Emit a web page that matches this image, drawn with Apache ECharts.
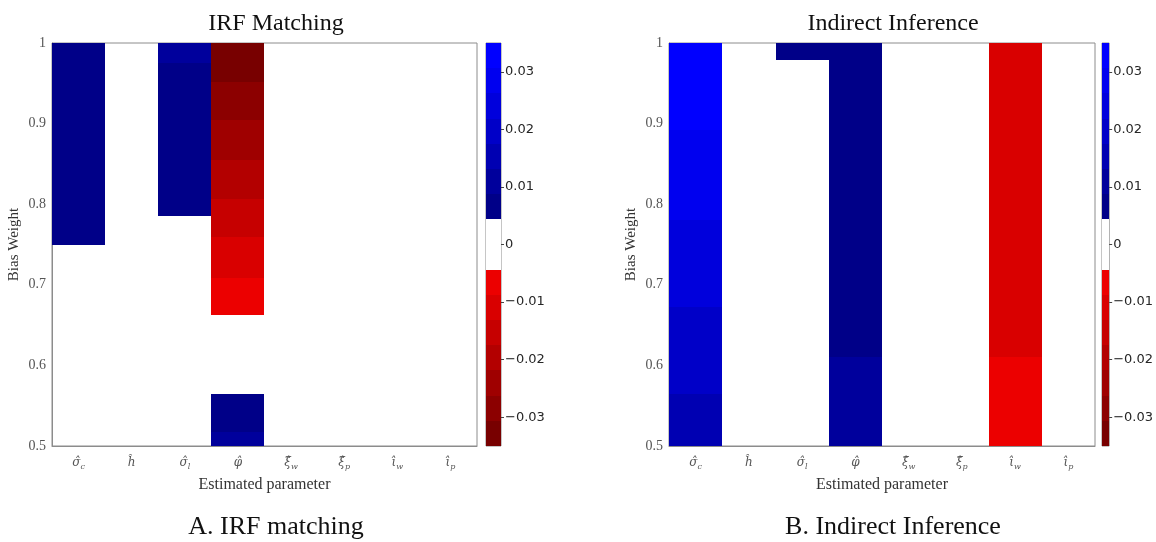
<!DOCTYPE html>
<html>
<head>
<meta charset="utf-8">
<script src="https://cdn.jsdelivr.net/npm/echarts@6/dist/echarts.min.js"></script>
<style>
  html, body { margin: 0; padding: 0; background: #fff; }
  #main { width: 1156px; height: 542px; }
</style>
</head>
<body>
<div id="main"></div>
<script>
// estimated parameters (symbol + subscript)
var paramSymbols = ['σ\u0302', 'h\u0302', 'σ\u0302', 'φ\u0302', 'ξ\u0302', 'ξ\u0302', 'ι\u0302', 'ι\u0302'];
var paramSubs = ['c', '', 'l', '', 'w', 'p', 'w', 'p'];

// bias blocks: [parameter index, bias weight from, bias weight to, bias]
var irfBlocks = [
  [0, 0.750, 1.000, 0.0068],
  [2, 0.785, 0.975, 0.0070],
  [2, 0.975, 1.000, 0.0105],
  [3, 0.952, 1.000, -0.0330],
  [3, 0.904, 0.952, -0.0288],
  [3, 0.855, 0.904, -0.0243],
  [3, 0.807, 0.855, -0.0199],
  [3, 0.759, 0.807, -0.0155],
  [3, 0.709, 0.759, -0.0110],
  [3, 0.662, 0.709, -0.0068],
  [3, 0.517, 0.565, 0.0072],
  [3, 0.500, 0.517, 0.0100]
];

var iiBlocks = [
  [0, 0.892, 1.000, 0.0330],
  [0, 0.780, 0.892, 0.0285],
  [0, 0.673, 0.780, 0.0243],
  [0, 0.564, 0.673, 0.0200],
  [0, 0.500, 0.564, 0.0157],
  [2, 0.979, 1.000, 0.0065],
  [3, 0.611, 1.000, 0.0070],
  [3, 0.500, 0.611, 0.0108],
  [6, 0.611, 1.000, -0.0112],
  [6, 0.500, 0.611, -0.0068]
];

// colour scale: 16 equal levels between -0.035 and 0.035
var levelMin = -0.035, levelMax = 0.035;
var levelColors = [
  '#780000', '#8c0000', '#9f0000', '#b30000', '#c60000', '#d90000', '#ec0000',
  '#ffffff', '#ffffff',
  '#000088', '#00009c', '#0000b2', '#0000c8', '#0000dc', '#0000ef', '#0000ff'
];
var colorbarTicks = [-0.03, -0.02, -0.01, 0, 0.01, 0.02, 0.03];

var step = (levelMax - levelMin) / levelColors.length;
var pieces = [];
var colorbarData = [];
levelColors.forEach(function (c, i) {
  var lo = levelMin + i * step, hi = lo + step;
  pieces.push({ gte: lo, lt: hi, color: c });
  colorbarData.push([0, lo, hi, lo + step / 2]);
});

var categories = paramSymbols.map(function (s, i) { return String(i); });

function renderBlock(params, api) {
  var x = api.value(0);
  var p0 = api.coord([x, api.value(1)]);
  var p1 = api.coord([x, api.value(2)]);
  var w = api.size([1, 0])[0];
  var yTop = Math.round(p1[1]), yBot = Math.round(p0[1]);
  return {
    type: 'rect',
    shape: { x: Math.round(p0[0] - w / 2), y: yTop, width: Math.round(w), height: yBot - yTop },
    style: { fill: api.visual('color') }
  };
}

var serif = 'Liberation Serif';
var axisGray = '#8c8c8c';

function mainX(gridIndex) {
  return {
    type: 'category', gridIndex: gridIndex, data: categories,
    name: 'Estimated parameter', nameLocation: 'middle', nameGap: 31,
    nameTextStyle: { fontFamily: serif, fontSize: 16, color: '#333' },
    axisLine: { lineStyle: { color: axisGray } },
    axisTick: { show: false },
    axisLabel: {
      margin: 9, interval: 0,
      formatter: function (v) {
        var i = +v;
        return '{m|' + paramSymbols[i] + '}' + (paramSubs[i] ? '{s|' + paramSubs[i] + '}' : '');
      },
      rich: {
        m: { fontFamily: 'DejaVu Serif', fontStyle: 'italic', fontSize: 12, color: '#555', lineHeight: 16 },
        s: { fontFamily: 'DejaVu Serif', fontStyle: 'italic', fontSize: 8, color: '#555', verticalAlign: 'bottom', padding: [6, 0, 0, 0] }
      }
    }
  };
}

function mainY(gridIndex) {
  return {
    type: 'value', gridIndex: gridIndex, min: 0.5, max: 1, interval: 0.1,
    name: 'Bias Weight', nameLocation: 'middle', nameGap: 30,
    nameTextStyle: { fontFamily: serif, fontSize: 15, color: '#333' },
    axisLine: { show: true, lineStyle: { color: axisGray } },
    axisTick: { show: false },
    splitLine: { show: false },
    axisLabel: { fontFamily: serif, fontSize: 14, color: '#555', margin: 6 }
  };
}

function barX(gridIndex) {
  return { type: 'category', gridIndex: gridIndex, data: ['0'], show: false };
}

function barY(gridIndex) {
  return {
    type: 'value', gridIndex: gridIndex, min: levelMin, max: levelMax, position: 'right',
    axisLine: { show: false },
    splitLine: { show: false },
    axisTick: { show: true, customValues: colorbarTicks, length: 3, inside: false, lineStyle: { color: '#444' } },
    axisLabel: {
      customValues: colorbarTicks, margin: 4,
      fontFamily: 'DejaVu Sans', fontSize: 13, color: '#262626',
      formatter: function (v) { return v === 0 ? '0' : v.toFixed(2).replace('-', '\u2212'); }
    }
  };
}

var chart = echarts.init(document.getElementById('main'));
chart.setOption({
  backgroundColor: '#fff',
  animation: false,
  grid: [
    { left: 52, top: 43, width: 425, height: 403, show: true, borderColor: axisGray, borderWidth: 1 },
    { left: 486, top: 43, width: 15, height: 403, show: true, borderColor: axisGray, borderWidth: 1 },
    { left: 669, top: 43, width: 426, height: 403, show: true, borderColor: axisGray, borderWidth: 1 },
    { left: 1102, top: 43, width: 16, height: 403, show: true, borderColor: axisGray, borderWidth: 1 }
  ],
  xAxis: [mainX(0), barX(1), mainX(2), barX(3)],
  yAxis: [mainY(0), barY(1), mainY(2), barY(3)],
  visualMap: {
    type: 'piecewise', show: false, dimension: 3,
    seriesIndex: [0, 1, 2, 3], pieces: pieces
  },
  series: [
    { type: 'custom', xAxisIndex: 0, yAxisIndex: 0, renderItem: renderBlock, encode: { x: 0, y: [1, 2] }, data: irfBlocks },
    { type: 'custom', xAxisIndex: 1, yAxisIndex: 1, renderItem: renderBlock, encode: { x: 0, y: [1, 2] }, data: colorbarData },
    { type: 'custom', xAxisIndex: 2, yAxisIndex: 2, renderItem: renderBlock, encode: { x: 0, y: [1, 2] }, data: iiBlocks },
    { type: 'custom', xAxisIndex: 3, yAxisIndex: 3, renderItem: renderBlock, encode: { x: 0, y: [1, 2] }, data: colorbarData }
  ],
  graphic: [
    { type: 'text', x: 276, y: 24, style: { text: 'IRF Matching', fontFamily: serif, fontSize: 24, fill: '#111', align: 'center', verticalAlign: 'middle' } },
    { type: 'text', x: 893, y: 24, style: { text: 'Indirect Inference', fontFamily: serif, fontSize: 24, fill: '#111', align: 'center', verticalAlign: 'middle' } },
    { type: 'text', x: 276, y: 527, style: { text: 'A. IRF matching', fontFamily: serif, fontSize: 26, fill: '#111', align: 'center', verticalAlign: 'middle' } },
    { type: 'text', x: 893, y: 527, style: { text: 'B. Indirect Inference', fontFamily: serif, fontSize: 26, fill: '#111', align: 'center', verticalAlign: 'middle' } }
  ]
});
</script>
</body>
</html>
